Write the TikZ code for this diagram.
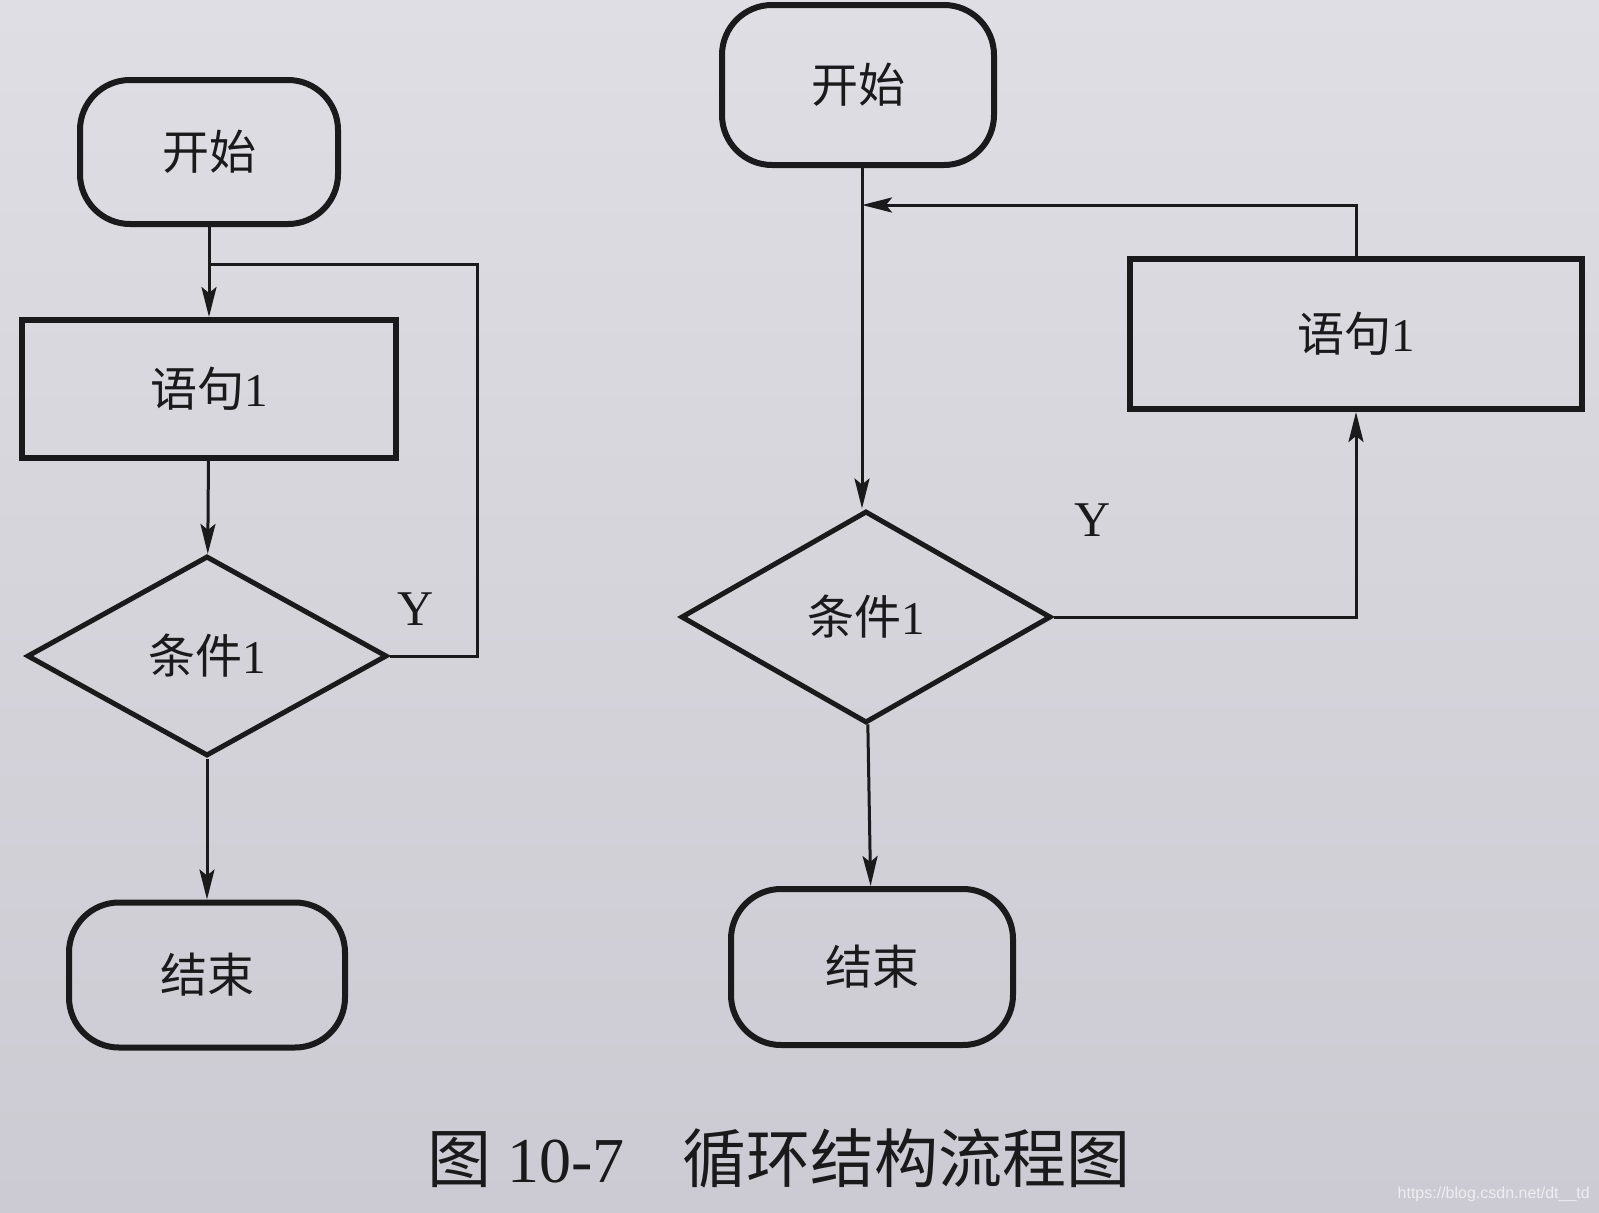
\documentclass[tikz,border=0pt]{standalone}
\usepackage{fontspec}
\setmainfont{Liberation Serif}
\newfontfamily\cjk{Noto Sans CJK SC}
\newfontfamily\wmfont{Liberation Sans}
\usetikzlibrary{shapes.geometric,arrows.meta}
\definecolor{paper}{RGB}{222,222,228}
\definecolor{paperdark}{RGB}{204,202,210}
\definecolor{ink}{RGB}{26,26,28}
\definecolor{wmcol}{RGB}{238,238,242}
\tikzset{
  term/.style={draw=ink, line width=6pt, rounded corners=50pt, inner sep=0pt,
    font=\fontsize{47}{50}\selectfont, text=ink},
  proc/.style={draw=ink, line width=6pt, inner sep=0pt,
    font=\fontsize{47}{50}\selectfont, text=ink},
  cond/.style={diamond, draw=ink, line width=5pt, inner sep=0pt,
    font=\fontsize{47}{50}\selectfont, text=ink},
  flow/.style={draw=ink, line width=3pt, -{Stealth[length=30pt,width=15pt,inset=6pt]}},
  link/.style={draw=ink, line width=3pt},
  lbl/.style={font=\fontsize{50}{54}\selectfont, text=ink, inner sep=0pt},
  caption/.style={font=\fontsize{64}{70}\selectfont, text=ink, inner sep=0pt},
  watermark/.style={font=\wmfont\fontsize{16}{18}\selectfont, text=wmcol, inner sep=0pt}
}
\begin{document}
\begin{tikzpicture}[x=1pt,y=-1pt]
\fill[top color=paper, bottom color=paperdark] (0,0) rectangle (1599,1213);
\useasboundingbox (0,0) rectangle (1599,1213);

% left chart
\node[term, minimum width=258pt, minimum height=144pt] (s1) at (209,152) {\cjk 开始};
\node[proc, minimum width=374pt, minimum height=138pt] (p1) at (209,389) {{\cjk 语句}1};
\node[cond, minimum width=360pt, minimum height=200pt] (c1) at (207,656) {{\cjk 条件}1};
\node[term, minimum width=276pt, minimum height=145pt] (e1) at (207,975) {\cjk 结束};
\coordinate (j1) at (209,264);
\coordinate (r1) at (477,264);
\draw[flow] (s1) -- (p1);
\draw[flow] (p1) -- (c1);
\draw[flow] (c1) -- (e1);
\draw[link] (c1.east) -| (r1) -- (j1);
\node[lbl] (y1) at (416,609) {Y};

% right chart
\node[term, minimum width=272pt, minimum height=160pt] (s2) at (858,85) {\cjk 开始};
\node[proc, minimum width=452pt, minimum height=150pt] (p2) at (1356,334) {{\cjk 语句}1};
\node[cond, minimum width=370pt, minimum height=212pt] (c2) at (866,617) {{\cjk 条件}1};
\node[term, minimum width=282pt, minimum height=156pt] (e2) at (872,967) {\cjk 结束};
\coordinate (j2) at (862,205);
\draw[flow] (s2.south -| j2) -- (c2.north -| j2);
\draw[flow] (c2) -- (e2);
\draw[flow] (c2.east) -| (p2.south);
\draw[flow] (p2.north) |- (j2);
\node[lbl] (y2) at (1093,520) {Y};

% caption
\node[caption] (cap) at (779,1158) {{\cjk 图} 10-7\hspace{0.9em}{\cjk 循环结构流程图}};
\node[watermark, anchor=east] (wm) at (1590,1194) {https://blog.csdn.net/dt\_\_td};
\end{tikzpicture}
\end{document}
